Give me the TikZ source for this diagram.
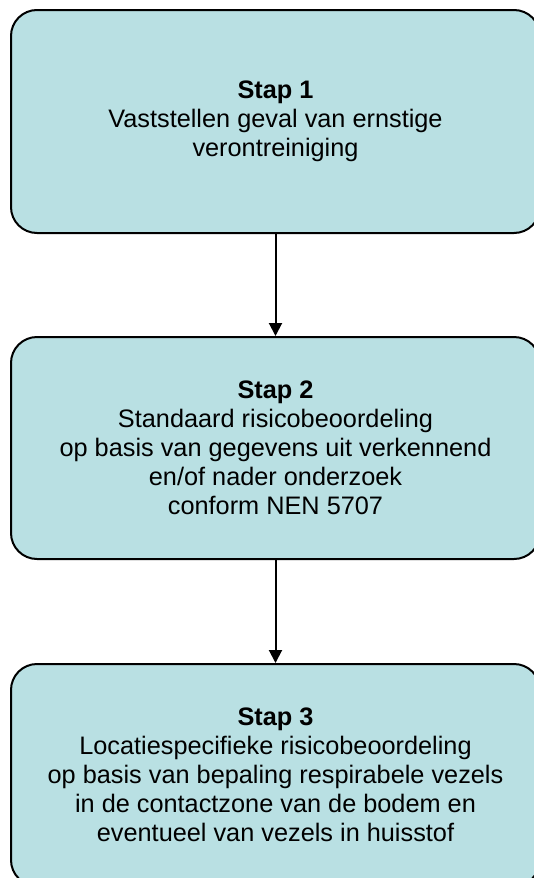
\documentclass[tikz,border=0pt]{standalone}
\usepackage{fontspec}
\setmainfont{Liberation Sans}
\usetikzlibrary{arrows.meta}
\definecolor{boxfill}{RGB}{185,224,227}
\tikzset{
  stepbox/.style={draw=black, line width=2pt, fill=boxfill, rounded corners=26pt,
    minimum width=529pt, align=center, inner sep=0pt,
    font=\fontsize{25.3}{29}\selectfont},
  flow/.style={line width=2pt, -{Triangle[width=13pt,length=13pt]}}
}
\begin{document}
\begin{tikzpicture}[x=1pt,y=-1pt]
\useasboundingbox (0,0) rectangle (534,878);
\clip (0,0) rectangle (534,878);
\node[stepbox, minimum height=223pt] (s1) at (275.5,121.5)
  {\textbf{Stap 1}\\Vaststellen geval van ernstige\\verontreiniging};
\node[stepbox, minimum height=222pt] (s2) at (275.5,448)
  {\textbf{Stap 2}\\Standaard risicobeoordeling\\op basis van gegevens uit verkennend\\en/of nader onderzoek\\conform NEN 5707};
\node[stepbox, minimum height=222pt] (s3) at (275.5,775)
  {\textbf{Stap 3}\\Locatiespecifieke risicobeoordeling\\op basis van bepaling respirabele vezels\\in de contactzone van de bodem en\\eventueel van vezels in huisstof};
\draw[flow] (s1.south) -- (s2.north);
\draw[flow] (s2.south) -- (s3.north);
\end{tikzpicture}
\end{document}
